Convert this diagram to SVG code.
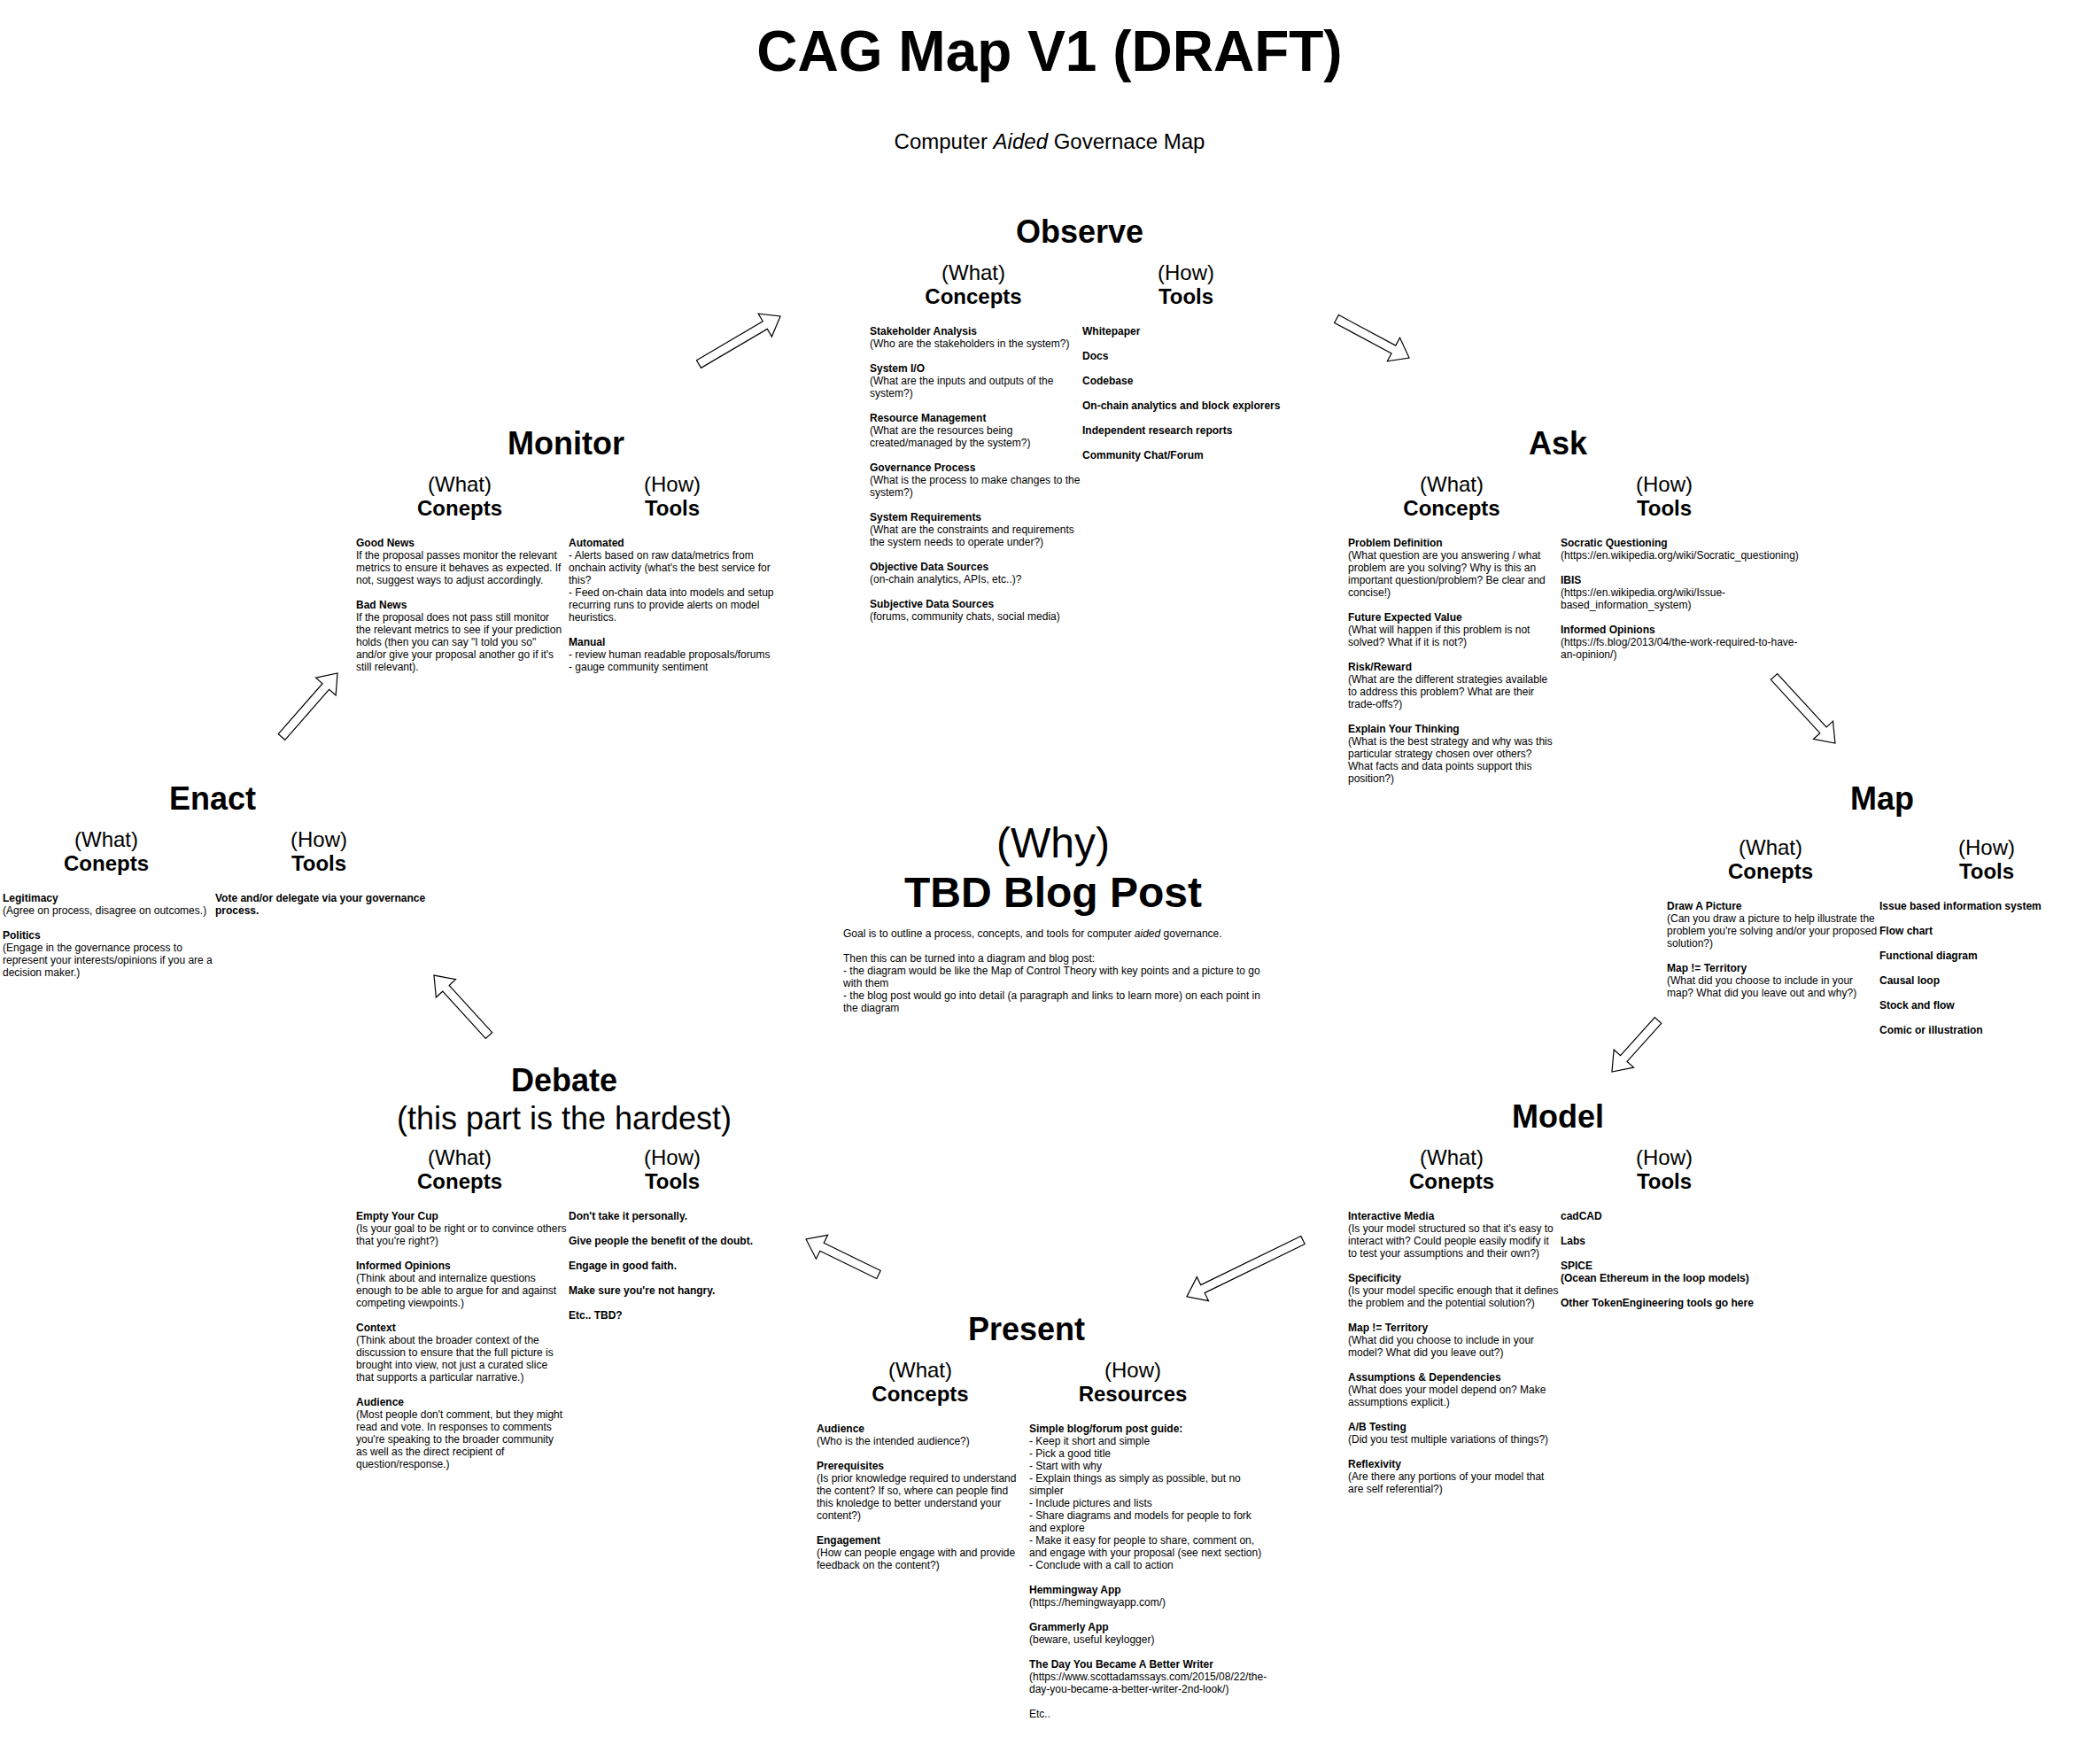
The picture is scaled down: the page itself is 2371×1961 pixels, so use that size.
<svg xmlns="http://www.w3.org/2000/svg" width="2371" height="1961" viewBox="0 0 2371 1961">
<style>
text{font-family:"Liberation Sans",Arial,sans-serif;fill:#000}
.title{font-size:64px;font-weight:bold;text-anchor:middle}
.sub{font-size:24px;text-anchor:middle}
.t{font-size:36px;font-weight:bold;text-anchor:middle}
.tr{font-size:36px;text-anchor:middle}
.h{font-size:24px;text-anchor:middle}
.hb{font-size:24px;font-weight:bold;text-anchor:middle}
.s{font-size:12px}
.b{font-weight:bold}
.why{font-size:48px;text-anchor:middle}
.whyb{font-size:48px;font-weight:bold;text-anchor:middle}
.arrow{fill:#fff;stroke:#000;stroke-width:1.2}
</style>
<rect width="2371" height="1961" fill="#fff"/>

<g id="header">
<text class="title" x="1185" y="80">CAG Map V1 (DRAFT)</text>
<text class="sub" x="1185" y="168">Computer <tspan font-style="italic">Aided</tspan> Governace Map</text>
</g>

<g id="observe">
<text class="t" x="1219" y="274">Observe</text>
<text class="h" x="1099" y="316">(What)</text>
<text class="hb" x="1099" y="343">Concepts</text>
<text class="h" x="1339" y="316">(How)</text>
<text class="hb" x="1339" y="343">Tools</text>
<text class="s" x="982" y="378"><tspan class="b">Stakeholder Analysis</tspan>
<tspan x="982" dy="14">(Who are the stakeholders in the system?)</tspan>
<tspan x="982" dy="28" class="b">System I/O</tspan>
<tspan x="982" dy="14">(What are the inputs and outputs of the</tspan>
<tspan x="982" dy="14">system?)</tspan>
<tspan x="982" dy="28" class="b">Resource Management</tspan>
<tspan x="982" dy="14">(What are the resources being</tspan>
<tspan x="982" dy="14">created/managed by the system?)</tspan>
<tspan x="982" dy="28" class="b">Governance Process</tspan>
<tspan x="982" dy="14">(What is the process to make changes to the</tspan>
<tspan x="982" dy="14">system?)</tspan>
<tspan x="982" dy="28" class="b">System Requirements</tspan>
<tspan x="982" dy="14">(What are the constraints and requirements</tspan>
<tspan x="982" dy="14">the system needs to operate under?)</tspan>
<tspan x="982" dy="28" class="b">Objective Data Sources</tspan>
<tspan x="982" dy="14">(on-chain analytics, APIs, etc..)?</tspan>
<tspan x="982" dy="28" class="b">Subjective Data Sources</tspan>
<tspan x="982" dy="14">(forums, community chats, social media)</tspan></text>
<text class="s b" x="1222" y="378"><tspan>Whitepaper</tspan>
<tspan x="1222" dy="28">Docs</tspan>
<tspan x="1222" dy="28">Codebase</tspan>
<tspan x="1222" dy="28">On-chain analytics and block explorers</tspan>
<tspan x="1222" dy="28">Independent research reports</tspan>
<tspan x="1222" dy="28">Community Chat/Forum</tspan></text>
</g>

<g id="monitor">
<text class="t" x="639" y="513">Monitor</text>
<text class="h" x="519" y="555">(What)</text>
<text class="hb" x="519" y="582">Conepts</text>
<text class="h" x="759" y="555">(How)</text>
<text class="hb" x="759" y="582">Tools</text>
<text class="s" x="402" y="617"><tspan class="b">Good News</tspan>
<tspan x="402" dy="14">If the proposal passes monitor the relevant</tspan>
<tspan x="402" dy="14">metrics to ensure it behaves as expected. If</tspan>
<tspan x="402" dy="14">not, suggest ways to adjust accordingly.</tspan>
<tspan x="402" dy="28" class="b">Bad News</tspan>
<tspan x="402" dy="14">If the proposal does not pass still monitor</tspan>
<tspan x="402" dy="14">the relevant metrics to see if your prediction</tspan>
<tspan x="402" dy="14">holds (then you can say "I told you so"</tspan>
<tspan x="402" dy="14">and/or give your proposal another go if it's</tspan>
<tspan x="402" dy="14">still relevant).</tspan></text>
<text class="s" x="642" y="617"><tspan class="b">Automated</tspan>
<tspan x="642" dy="14">- Alerts based on raw data/metrics from</tspan>
<tspan x="642" dy="14">onchain activity (what's the best service for</tspan>
<tspan x="642" dy="14">this?</tspan>
<tspan x="642" dy="14">- Feed on-chain data into models and setup</tspan>
<tspan x="642" dy="14">recurring runs to provide alerts on model</tspan>
<tspan x="642" dy="14">heuristics.</tspan>
<tspan x="642" dy="28" class="b">Manual</tspan>
<tspan x="642" dy="14">- review human readable proposals/forums</tspan>
<tspan x="642" dy="14">- gauge community sentiment</tspan></text>
</g>

<g id="ask">
<text class="t" x="1759" y="513">Ask</text>
<text class="h" x="1639" y="555">(What)</text>
<text class="hb" x="1639" y="582">Concepts</text>
<text class="h" x="1879" y="555">(How)</text>
<text class="hb" x="1879" y="582">Tools</text>
<text class="s" x="1522" y="617"><tspan class="b">Problem Definition</tspan>
<tspan x="1522" dy="14">(What question are you answering / what</tspan>
<tspan x="1522" dy="14">problem are you solving? Why is this an</tspan>
<tspan x="1522" dy="14">important question/problem? Be clear and</tspan>
<tspan x="1522" dy="14">concise!)</tspan>
<tspan x="1522" dy="28" class="b">Future Expected Value</tspan>
<tspan x="1522" dy="14">(What will happen if this problem is not</tspan>
<tspan x="1522" dy="14">solved? What if it is not?)</tspan>
<tspan x="1522" dy="28" class="b">Risk/Reward</tspan>
<tspan x="1522" dy="14">(What are the different strategies available</tspan>
<tspan x="1522" dy="14">to address this problem? What are their</tspan>
<tspan x="1522" dy="14">trade-offs?)</tspan>
<tspan x="1522" dy="28" class="b">Explain Your Thinking</tspan>
<tspan x="1522" dy="14">(What is the best strategy and why was this</tspan>
<tspan x="1522" dy="14">particular strategy chosen over others?</tspan>
<tspan x="1522" dy="14">What facts and data points support this</tspan>
<tspan x="1522" dy="14">position?)</tspan></text>
<text class="s" x="1762" y="617"><tspan class="b">Socratic Questioning</tspan>
<tspan x="1762" dy="14">(https://en.wikipedia.org/wiki/Socratic_questioning)</tspan>
<tspan x="1762" dy="28" class="b">IBIS</tspan>
<tspan x="1762" dy="14">(https://en.wikipedia.org/wiki/Issue-</tspan>
<tspan x="1762" dy="14">based_information_system)</tspan>
<tspan x="1762" dy="28" class="b">Informed Opinions</tspan>
<tspan x="1762" dy="14">(https://fs.blog/2013/04/the-work-required-to-have-</tspan>
<tspan x="1762" dy="14">an-opinion/)</tspan></text>
</g>

<g id="map">
<text class="t" x="2125" y="914">Map</text>
<text class="h" x="1999" y="965">(What)</text>
<text class="hb" x="1999" y="992">Conepts</text>
<text class="h" x="2243" y="965">(How)</text>
<text class="hb" x="2243" y="992">Tools</text>
<text class="s" x="1882" y="1027"><tspan class="b">Draw A Picture</tspan>
<tspan x="1882" dy="14">(Can you draw a picture to help illustrate the</tspan>
<tspan x="1882" dy="14">problem you're solving and/or your proposed</tspan>
<tspan x="1882" dy="14">solution?)</tspan>
<tspan x="1882" dy="28" class="b">Map != Territory</tspan>
<tspan x="1882" dy="14">(What did you choose to include in your</tspan>
<tspan x="1882" dy="14">map? What did you leave out and why?)</tspan></text>
<text class="s b" x="2122" y="1027"><tspan>Issue based information system</tspan>
<tspan x="2122" dy="28">Flow chart</tspan>
<tspan x="2122" dy="28">Functional diagram</tspan>
<tspan x="2122" dy="28">Causal loop</tspan>
<tspan x="2122" dy="28">Stock and flow</tspan>
<tspan x="2122" dy="28">Comic or illustration</tspan></text>
</g>

<g id="enact">
<text class="t" x="240" y="914">Enact</text>
<text class="h" x="120" y="956">(What)</text>
<text class="hb" x="120" y="983">Conepts</text>
<text class="h" x="360" y="956">(How)</text>
<text class="hb" x="360" y="983">Tools</text>
<text class="s" x="3" y="1018"><tspan class="b">Legitimacy</tspan>
<tspan x="3" dy="14">(Agree on process, disagree on outcomes.)</tspan>
<tspan x="3" dy="28" class="b">Politics</tspan>
<tspan x="3" dy="14">(Engage in the governance process to</tspan>
<tspan x="3" dy="14">represent your interests/opinions if you are a</tspan>
<tspan x="3" dy="14">decision maker.)</tspan></text>
<text class="s b" x="243" y="1018"><tspan>Vote and/or delegate via your governance</tspan>
<tspan x="243" dy="14">process.</tspan></text>
</g>

<g id="why">
<text class="why" x="1189" y="968">(Why)</text>
<text class="whyb" x="1189" y="1024">TBD Blog Post</text>
<text class="s" x="952" y="1058"><tspan>Goal is to outline a process, concepts, and tools for computer <tspan font-style="italic">aided</tspan> governance.</tspan>
<tspan x="952" dy="28">Then this can be turned into a diagram and blog post:</tspan>
<tspan x="952" dy="14">- the diagram would be like the Map of Control Theory with key points and a picture to go</tspan>
<tspan x="952" dy="14">with them</tspan>
<tspan x="952" dy="14">- the blog post would go into detail (a paragraph and links to learn more) on each point in</tspan>
<tspan x="952" dy="14">the diagram</tspan></text>
</g>

<g id="debate">
<text class="t" x="637" y="1232">Debate</text>
<text class="tr" x="637" y="1275">(this part is the hardest)</text>
<text class="h" x="519" y="1315">(What)</text>
<text class="hb" x="519" y="1342">Conepts</text>
<text class="h" x="759" y="1315">(How)</text>
<text class="hb" x="759" y="1342">Tools</text>
<text class="s" x="402" y="1377"><tspan class="b">Empty Your Cup</tspan>
<tspan x="402" dy="14">(Is your goal to be right or to convince others</tspan>
<tspan x="402" dy="14">that you're right?)</tspan>
<tspan x="402" dy="28" class="b">Informed Opinions</tspan>
<tspan x="402" dy="14">(Think about and internalize questions</tspan>
<tspan x="402" dy="14">enough to be able to argue for and against</tspan>
<tspan x="402" dy="14">competing viewpoints.)</tspan>
<tspan x="402" dy="28" class="b">Context</tspan>
<tspan x="402" dy="14">(Think about the broader context of the</tspan>
<tspan x="402" dy="14">discussion to ensure that the full picture is</tspan>
<tspan x="402" dy="14">brought into view, not just a curated slice</tspan>
<tspan x="402" dy="14">that supports a particular narrative.)</tspan>
<tspan x="402" dy="28" class="b">Audience</tspan>
<tspan x="402" dy="14">(Most people don't comment, but they might</tspan>
<tspan x="402" dy="14">read and vote. In responses to comments</tspan>
<tspan x="402" dy="14">you're speaking to the broader community</tspan>
<tspan x="402" dy="14">as well as the direct recipient of</tspan>
<tspan x="402" dy="14">question/response.)</tspan></text>
<text class="s b" x="642" y="1377"><tspan>Don't take it personally.</tspan>
<tspan x="642" dy="28">Give people the benefit of the doubt.</tspan>
<tspan x="642" dy="28">Engage in good faith.</tspan>
<tspan x="642" dy="28">Make sure you're not hangry.</tspan>
<tspan x="642" dy="28">Etc.. TBD?</tspan></text>
</g>

<g id="model">
<text class="t" x="1759" y="1273">Model</text>
<text class="h" x="1639" y="1315">(What)</text>
<text class="hb" x="1639" y="1342">Conepts</text>
<text class="h" x="1879" y="1315">(How)</text>
<text class="hb" x="1879" y="1342">Tools</text>
<text class="s" x="1522" y="1377"><tspan class="b">Interactive Media</tspan>
<tspan x="1522" dy="14">(Is your model structured so that it's easy to</tspan>
<tspan x="1522" dy="14">interact with? Could people easily modify it</tspan>
<tspan x="1522" dy="14">to test your assumptions and their own?)</tspan>
<tspan x="1522" dy="28" class="b">Specificity</tspan>
<tspan x="1522" dy="14">(Is your model specific enough that it defines</tspan>
<tspan x="1522" dy="14">the problem and the potential solution?)</tspan>
<tspan x="1522" dy="28" class="b">Map != Territory</tspan>
<tspan x="1522" dy="14">(What did you choose to include in your</tspan>
<tspan x="1522" dy="14">model? What did you leave out?)</tspan>
<tspan x="1522" dy="28" class="b">Assumptions &amp; Dependencies</tspan>
<tspan x="1522" dy="14">(What does your model depend on? Make</tspan>
<tspan x="1522" dy="14">assumptions explicit.)</tspan>
<tspan x="1522" dy="28" class="b">A/B Testing</tspan>
<tspan x="1522" dy="14">(Did you test multiple variations of things?)</tspan>
<tspan x="1522" dy="28" class="b">Reflexivity</tspan>
<tspan x="1522" dy="14">(Are there any portions of your model that</tspan>
<tspan x="1522" dy="14">are self referential?)</tspan></text>
<text class="s b" x="1762" y="1377"><tspan>cadCAD</tspan>
<tspan x="1762" dy="28">Labs</tspan>
<tspan x="1762" dy="28">SPICE</tspan>
<tspan x="1762" dy="14">(Ocean Ethereum in the loop models)</tspan>
<tspan x="1762" dy="28">Other TokenEngineering tools go here</tspan></text>
</g>

<g id="present">
<text class="t" x="1159" y="1513">Present</text>
<text class="h" x="1039" y="1555">(What)</text>
<text class="hb" x="1039" y="1582">Concepts</text>
<text class="h" x="1279" y="1555">(How)</text>
<text class="hb" x="1279" y="1582">Resources</text>
<text class="s" x="922" y="1617"><tspan class="b">Audience</tspan>
<tspan x="922" dy="14">(Who is the intended audience?)</tspan>
<tspan x="922" dy="28" class="b">Prerequisites</tspan>
<tspan x="922" dy="14">(Is prior knowledge required to understand</tspan>
<tspan x="922" dy="14">the content? If so, where can people find</tspan>
<tspan x="922" dy="14">this knoledge to better understand your</tspan>
<tspan x="922" dy="14">content?)</tspan>
<tspan x="922" dy="28" class="b">Engagement</tspan>
<tspan x="922" dy="14">(How can people engage with and provide</tspan>
<tspan x="922" dy="14">feedback on the content?)</tspan></text>
<text class="s" x="1162" y="1617"><tspan class="b">Simple blog/forum post guide:</tspan>
<tspan x="1162" dy="14">- Keep it short and simple</tspan>
<tspan x="1162" dy="14">- Pick a good title</tspan>
<tspan x="1162" dy="14">- Start with why</tspan>
<tspan x="1162" dy="14">- Explain things as simply as possible, but no</tspan>
<tspan x="1162" dy="14">simpler</tspan>
<tspan x="1162" dy="14">- Include pictures and lists</tspan>
<tspan x="1162" dy="14">- Share diagrams and models for people to fork</tspan>
<tspan x="1162" dy="14">and explore</tspan>
<tspan x="1162" dy="14">- Make it easy for people to share, comment on,</tspan>
<tspan x="1162" dy="14">and engage with your proposal (see next section)</tspan>
<tspan x="1162" dy="14">- Conclude with a call to action</tspan>
<tspan x="1162" dy="28" class="b">Hemmingway App</tspan>
<tspan x="1162" dy="14">(https://hemingwayapp.com/)</tspan>
<tspan x="1162" dy="28" class="b">Grammerly App</tspan>
<tspan x="1162" dy="14">(beware, useful keylogger)</tspan>
<tspan x="1162" dy="28" class="b">The Day You Became A Better Writer</tspan>
<tspan x="1162" dy="14">(https://www.scottadamssays.com/2015/08/22/the-</tspan>
<tspan x="1162" dy="14">day-you-became-a-better-writer-2nd-look/)</tspan>
<tspan x="1162" dy="28">Etc..</tspan></text>
</g>

<g id="connectors">
<polygon class="arrow" points="0,-5 86.7,-5 86.7,-15 106.7,0 86.7,15 86.7,5 0,5" transform="translate(789,411) rotate(-30.4)"/>
<polygon class="arrow" points="0,-5 73.1,-5 73.1,-15 93.1,0 73.1,15 73.1,5 0,5" transform="translate(1509,360) rotate(28.2)"/>
<polygon class="arrow" points="0,-5 81.9,-5 81.9,-15 101.9,0 81.9,15 81.9,5 0,5" transform="translate(2003,764) rotate(47.4)"/>
<polygon class="arrow" points="0,-5 57.9,-5 57.9,-15 77.9,0 57.9,15 57.9,5 0,5" transform="translate(1872,1152) rotate(131.9)"/>
<polygon class="arrow" points="0,-5 125.8,-5 125.8,-15 145.8,0 125.8,15 125.8,5 0,5" transform="translate(1471,1400) rotate(154)"/>
<polygon class="arrow" points="0,-5 71.2,-5 71.2,-15 91.2,0 71.2,15 71.2,5 0,5" transform="translate(992,1439) rotate(-154)"/>
<polygon class="arrow" points="0,-5 72,-5 72,-15 92,0 72,15 72,5 0,5" transform="translate(552,1169) rotate(-132.4)"/>
<polygon class="arrow" points="0,-5 75.7,-5 75.7,-15 95.7,0 75.7,15 75.7,5 0,5" transform="translate(318,832) rotate(-48.8)"/>
</g>
</svg>
